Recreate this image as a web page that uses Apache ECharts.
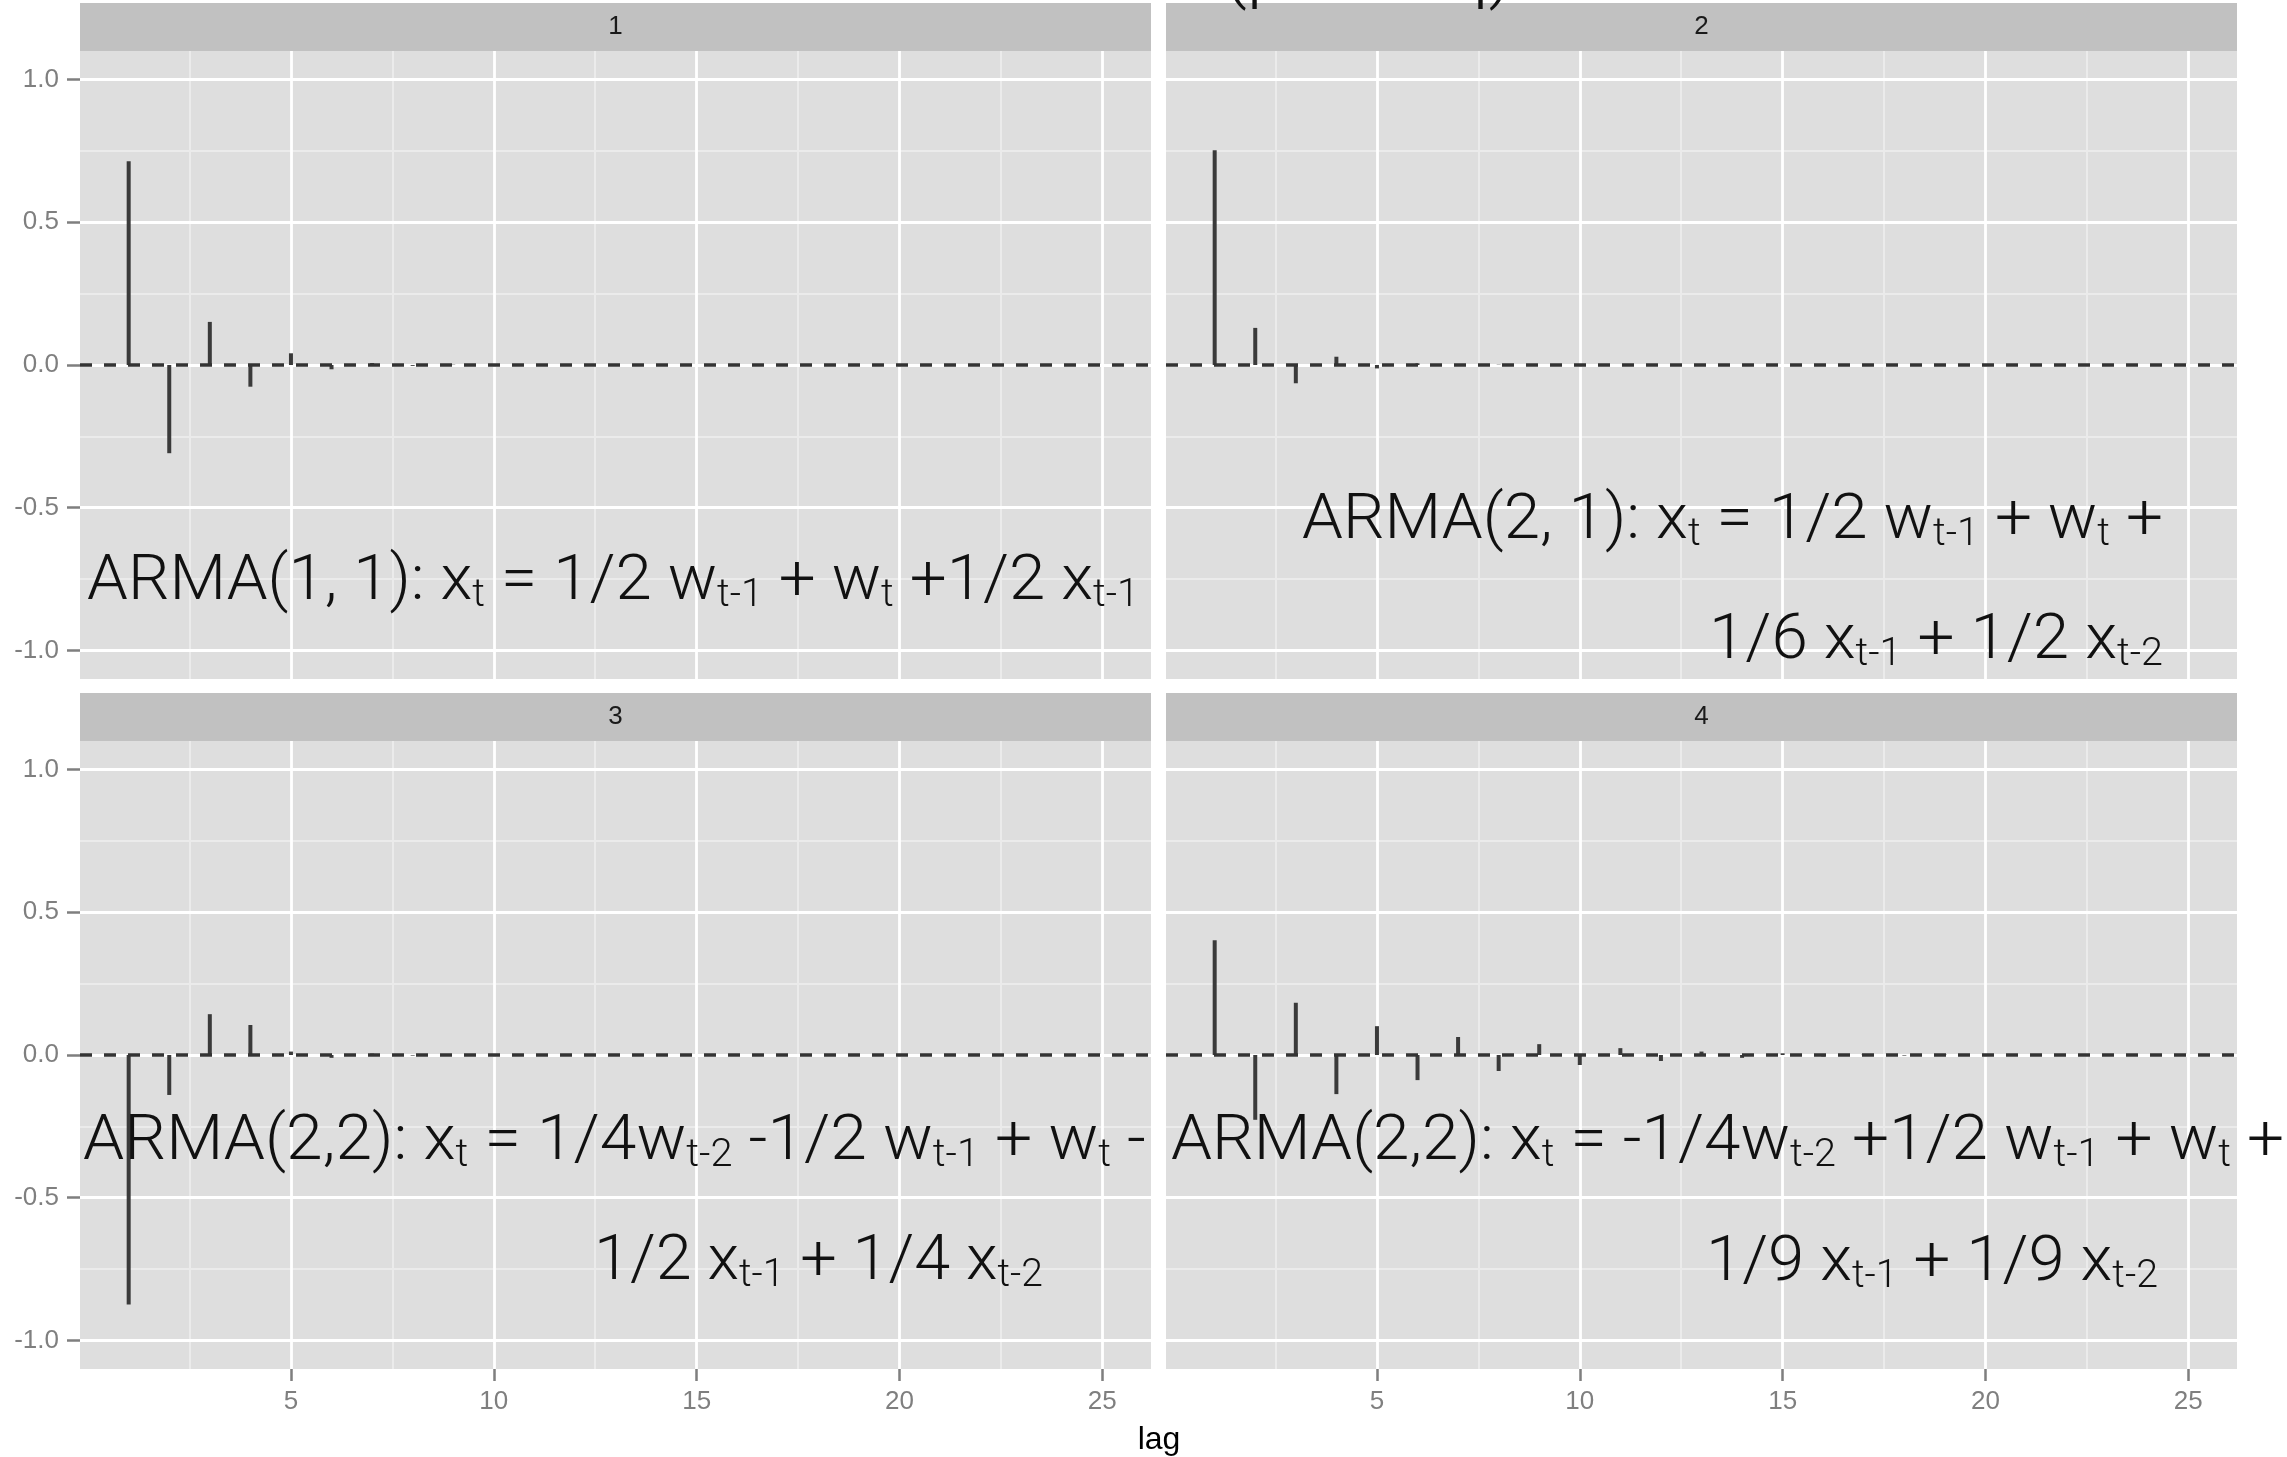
<!DOCTYPE html>
<html>
<head>
<meta charset="utf-8">
<script src="https://cdn.jsdelivr.net/npm/echarts@6/dist/echarts.min.js"></script>
<style>
  html, body { margin: 0; padding: 0; background: #ffffff; }
  #chart { width: 2287px; height: 1457px; }
</style>
</head>
<body>
<div id="chart"></div>
<script>
// Partial autocorrelations of four simulated ARMA processes, lags 1..25
const lags = [1, 2, 3, 4, 5, 6, 7, 8, 9, 10, 11, 12, 13, 14, 15, 16, 17, 18, 19, 20, 21, 22, 23, 24, 25];
const pacfArma11  = [0.714, -0.309, 0.151, -0.076, 0.041, -0.015, 0.007, -0.003, 0.001, 0, 0, 0, 0, 0, 0, 0, 0, 0, 0, 0, 0, 0, 0, 0, 0];
const pacfArma21  = [0.752, 0.130, -0.064, 0.029, -0.012, 0.006, -0.003, 0.001, 0, 0, 0, 0, 0, 0, 0, 0, 0, 0, 0, 0, 0, 0, 0, 0, 0];
const pacfArma22a = [-0.874, -0.140, 0.143, 0.105, 0.012, -0.010, 0.005, -0.002, 0, 0, 0, 0, 0, 0, 0, 0, 0, 0, 0, 0, 0, 0, 0, 0, 0];
const pacfArma22b = [0.402, -0.227, 0.183, -0.137, 0.101, -0.088, 0.063, -0.056, 0.038, -0.035, 0.024, -0.021, 0.012, -0.010, 0.006, -0.005, 0.003, -0.002, 0.001, 0, 0, 0, 0, 0, 0];

const panelLabels = ['1', '2', '3', '4'];
const lagTicks  = [5, 10, 15, 20, 25];
const lagMinor  = [2.5, 7.5, 12.5, 17.5, 22.5];
const acfTicks  = [-1, -0.5, 0, 0.5, 1];
const acfMinor  = [-0.75, -0.25, 0.25, 0.75];
const axisTitle = 'lag';
const headline  = '(p and q)';

// model equations; _{...} marks a subscript
const eqArma11  = ['ARMA(1, 1): x_{t} = 1/2 w_{t-1} + w_{t} +1/2 x_{t-1}'];
const eqArma21  = ['ARMA(2, 1): x_{t} = 1/2 w_{t-1} + w_{t} +', '1/6 x_{t-1} + 1/2 x_{t-2}'];
const eqArma22a = ['ARMA(2,2): x_{t} = 1/4w_{t-2} -1/2 w_{t-1} + w_{t} -', '1/2 x_{t-1} + 1/4 x_{t-2}'];
const eqArma22b = ['ARMA(2,2): x_{t} = -1/4w_{t-2} +1/2 w_{t-1} + w_{t} +', '1/9 x_{t-1} + 1/9 x_{t-2}'];

const seriesValues = [pacfArma11, pacfArma21, pacfArma22a, pacfArma22b];

// ---- layout ----
const PLOT_W = 1071, PLOT_H = 628, STRIP_H = 48;
const cells = [
  { left: 80,   top: 51 },
  { left: 1166, top: 51 },
  { left: 80,   top: 741 },
  { left: 1166, top: 741 }
];
const LABEL_FONT = '"Liberation Sans", Arial, Helvetica, sans-serif';
const EQ_FONT = 'Roboto, "Liberation Sans", sans-serif';
const EQ_MAIN = 63, EQ_SUB = 38;

const grids = [], xAxes = [], yAxes = [], series = [];

cells.forEach((c, i) => {
  grids.push({
    left: c.left, top: c.top, width: PLOT_W, height: PLOT_H,
    show: true, backgroundColor: '#dedede', borderWidth: 0, containLabel: false
  });
  const bottomRow = i >= 2, leftCol = i % 2 === 0;

  // minor grid lines (axis parked on the far side; only its split lines are drawn)
  xAxes.push({
    type: 'value', gridIndex: i, min: -0.2, max: 26.2, z: 0, position: 'top',
    axisLine: { show: false, onZero: false }, axisLabel: { show: false },
    axisTick: { show: false, customValues: lagMinor },
    splitLine: { show: true, lineStyle: { color: '#ebebeb', width: 2 } }
  });
  // major grid lines, ticks and labels
  xAxes.push({
    type: 'value', gridIndex: i, min: -0.2, max: 26.2, z: 1, position: 'bottom',
    axisLine: { show: false, onZero: false },
    axisTick: { show: bottomRow, customValues: lagTicks, length: 12,
                lineStyle: { color: '#7f7f7f', width: 2.5 } },
    axisLabel: { show: bottomRow, customValues: lagTicks, margin: 20,
                 color: '#7f7f7f', fontSize: 26, fontFamily: LABEL_FONT },
    splitLine: { show: true, lineStyle: { color: '#ffffff', width: 2.8 } }
  });
  yAxes.push({
    type: 'value', gridIndex: i, min: -1.1, max: 1.1, z: 0, position: 'right',
    axisLine: { show: false, onZero: false }, axisLabel: { show: false },
    axisTick: { show: false, customValues: acfMinor },
    splitLine: { show: true, lineStyle: { color: '#ebebeb', width: 2 } }
  });
  yAxes.push({
    type: 'value', gridIndex: i, min: -1.1, max: 1.1, z: 1, position: 'left',
    axisLine: { show: false, onZero: false },
    axisTick: { show: leftCol, customValues: acfTicks, length: 13,
                lineStyle: { color: '#7f7f7f', width: 2.5 } },
    axisLabel: { show: leftCol, customValues: acfTicks, margin: 21,
                 color: '#7f7f7f', fontSize: 26, fontFamily: LABEL_FONT,
                 formatter: v => Number(v).toFixed(1) },
    splitLine: { show: true, lineStyle: { color: '#ffffff', width: 2.8 } }
  });

  series.push({
    type: 'bar',
    xAxisIndex: 2 * i + 1, yAxisIndex: 2 * i + 1,
    data: lags.map((l, k) => [l, seriesValues[i][k]]),
    barWidth: 4,
    itemStyle: { color: '#3a3a3a' },
    z: 3,
    silent: true,
    markLine: {
      silent: true, symbol: ['none', 'none'], label: { show: false },
      lineStyle: { type: [12, 12], color: '#333333', width: 3.5 },
      data: [{ yAxis: 0 }]
    }
  });
});

// ---- text helpers ----
function toRich(s) {
  return s.split(/(_\{[^}]*\})/).filter(p => p.length).map(p =>
    p.startsWith('_{') ? '{s|' + p.slice(2, -1) + '}' : '{m|' + p + '}'
  ).join('');
}
const mctx = document.createElement('canvas').getContext('2d');
function eqWidth(s) {
  let w = 0;
  s.split(/(_\{[^}]*\})/).filter(p => p.length).forEach(p => {
    const sub = p.startsWith('_{');
    mctx.font = '300 ' + (sub ? EQ_SUB : EQ_MAIN) + 'px ' + EQ_FONT;
    w += mctx.measureText(sub ? p.slice(2, -1) : p).width;
  });
  return w;
}
const eqRich = {
  m: { fontSize: EQ_MAIN, fontFamily: EQ_FONT, fontWeight: 300, fill: '#111111', verticalAlign: 'bottom' },
  s: { fontSize: EQ_SUB,  fontFamily: EQ_FONT, fontWeight: 300, fill: '#111111', verticalAlign: 'bottom' }
};
// baseline -> bottom of the rich text block
const BASE_OFF = 17;
function eqText(str, x0, x1, baseline, anchor) {
  const sx = (x1 - x0) / eqWidth(str);
  return {
    type: 'text', z: 100, silent: true,
    x: anchor === 'right' ? x1 : x0, y: baseline + BASE_OFF, scaleX: sx,
    style: { text: toRich(str), rich: eqRich, align: anchor, verticalAlign: 'bottom' }
  };
}

const graphics = [];
cells.forEach((c, i) => {
  graphics.push({
    type: 'rect', z: 10, silent: true,
    shape: { x: c.left, y: c.top - STRIP_H, width: PLOT_W, height: STRIP_H },
    style: { fill: '#c1c1c1' }
  });
  graphics.push({
    type: 'text', z: 11, silent: true,
    x: c.left + PLOT_W / 2, y: c.top - STRIP_H / 2,
    style: { text: panelLabels[i], fill: '#1a1a1a', fontSize: 26, fontFamily: LABEL_FONT,
             align: 'center', verticalAlign: 'middle' }
  });
});

graphics.push(eqText(eqArma11[0], 87, 1139, 598, 'left'));
graphics.push(eqText(eqArma21[0], 1302, 2163, 537, 'right'));
graphics.push(eqText(eqArma21[1], 1709, 2163, 657, 'right'));
graphics.push(eqText(eqArma22a[0], 83, 1146, 1158, 'left'));
graphics.push(eqText(eqArma22a[1], 594, 1043, 1278, 'left'));
graphics.push(eqText(eqArma22b[0], 1171, 2284, 1158, 'left'));
graphics.push(eqText(eqArma22b[1], 1706, 2158, 1279, 'right'));

graphics.push({
  type: 'text', z: 100, silent: true, x: 1159, y: 1440,
  style: { text: axisTitle, fill: '#000000', fontSize: 32, fontFamily: LABEL_FONT,
           align: 'center', verticalAlign: 'middle' }
});
// headline sitting above the canvas edge; only its lowest strokes reach the page
mctx.font = '300 73px ' + EQ_FONT;
graphics.push({
  type: 'text', z: 100, silent: true, x: 1223, y: 12,
  scaleX: 290 / mctx.measureText(headline).width,
  style: { text: headline, fill: '#111111', fontSize: 73, fontFamily: EQ_FONT, fontWeight: 300,
           align: 'left', verticalAlign: 'bottom' }
});

const chart = echarts.init(document.getElementById('chart'), null, { renderer: 'canvas' });
chart.setOption({
  animation: false,
  backgroundColor: '#ffffff',
  grid: grids,
  xAxis: xAxes,
  yAxis: yAxes,
  series: series,
  graphic: { elements: graphics }
});
</script>
</body>
</html>
